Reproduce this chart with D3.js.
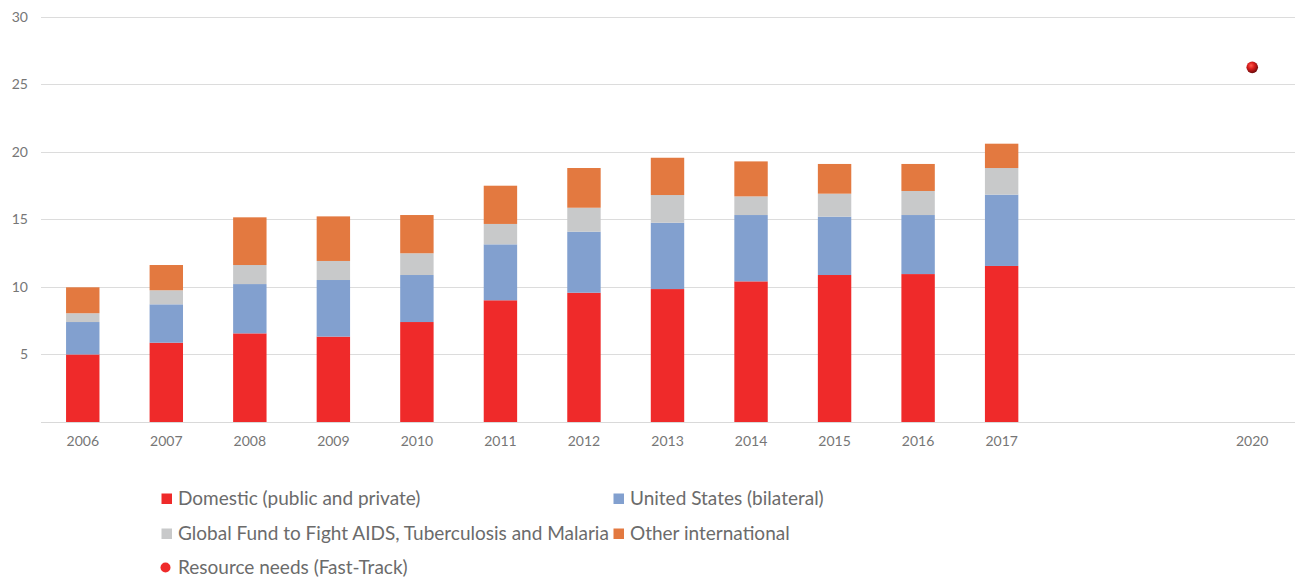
<!DOCTYPE html>
<html>
<head>
<meta charset="utf-8">
<script src="https://cdn.jsdelivr.net/npm/d3@7"></script>
<style>
  html, body { margin: 0; padding: 0; background: #ffffff; }
  svg { display: block; font-family: Lato, "Open Sans", sans-serif; }
</style>
</head>
<body>
<svg id="chart" width="1296" height="577"></svg>
<script>
// HIV resource availability by source (US$ billions)
const years = ["2006","2007","2008","2009","2010","2011","2012","2013","2014","2015","2016","2017","2018","2019","2020"];
const yearLabels = ["2006","2007","2008","2009","2010","2011","2012","2013","2014","2015","2016","2017","","","2020"];
const barYears = ["2006","2007","2008","2009","2010","2011","2012","2013","2014","2015","2016","2017"];

const domestic      = [5.00, 5.87, 6.56, 6.32, 7.40, 9.01, 9.57, 9.84, 10.41, 10.88, 10.95, 11.55];
const unitedStates  = [2.40, 2.84, 3.65, 4.19, 3.48, 4.14, 4.52, 4.91, 4.91, 4.32, 4.37, 5.28];
const globalFund    = [0.65, 1.04, 1.41, 1.41, 1.61, 1.51, 1.77, 2.05, 1.38, 1.70, 1.78, 1.97];
const otherIntl     = [1.92, 1.87, 3.53, 3.30, 2.83, 2.83, 2.94, 2.76, 2.59, 2.20, 2.00, 1.80];

const needsYear  = ["2020"];
const needsValue = [26.25];

const yTicks = [5, 10, 15, 20, 25, 30];

const seriesKeys   = ["domestic", "unitedStates", "globalFund", "otherIntl"];
const seriesNames  = ["Domestic (public and private)", "United States (bilateral)",
                      "Global Fund to Fight AIDS, Tuberculosis and Malaria", "Other international"];
const seriesColors = ["#ef2a2a", "#82a0cf", "#c8c9ca", "#e37940"];
const needsName = "Resource needs (Fast-Track)";

const table = barYears.map((yr, i) => ({
  year: yr,
  domestic: domestic[i],
  unitedStates: unitedStates[i],
  globalFund: globalFund[i],
  otherIntl: otherIntl[i]
}));

const svg = d3.select("#chart");
const plotLeft = 41, plotRight = 1294, plotTop = 16.7, plotBottom = 422;

const x = d3.scaleBand().domain(years).range([plotLeft, plotRight]).paddingInner(0.6).paddingOuter(0.3);
const y = d3.scaleLinear().domain([0, 30]).range([plotBottom, plotTop]);

// gridlines
svg.append("g")
  .selectAll("line")
  .data(yTicks)
  .join("line")
  .attr("x1", plotLeft).attr("x2", plotRight + 1)
  .attr("y1", d => Math.round(y(d)) + 0.5).attr("y2", d => Math.round(y(d)) + 0.5)
  .attr("stroke", "#dcdcdc").attr("stroke-width", 1.2);

// y axis labels
const yAxis = d3.axisLeft(y).tickValues(yTicks).tickSize(0).tickPadding(0);
svg.append("g")
  .attr("transform", `translate(28,0)`)
  .call(yAxis)
  .call(g => g.select(".domain").remove())
  .call(g => g.selectAll("text")
    .attr("fill", "#767676").attr("font-size", "14px").attr("font-family", "Lato, sans-serif"));

// stacked bars
const stack = d3.stack().keys(seriesKeys);
const layers = stack(table);
const color = d3.scaleOrdinal().domain(seriesKeys).range(seriesColors);

svg.append("g")
  .selectAll("g")
  .data(layers)
  .join("g")
  .attr("fill", d => color(d.key))
  .selectAll("rect")
  .data(d => d)
  .join("rect")
  .attr("x", d => x(d.data.year))
  .attr("width", x.bandwidth())
  .attr("y", d => y(d[1]))
  .attr("height", d => y(d[0]) - y(d[1]));

// x axis baseline
svg.append("line")
  .attr("x1", plotLeft).attr("x2", plotRight + 1)
  .attr("y1", plotBottom + 0.5).attr("y2", plotBottom + 0.5)
  .attr("stroke", "#d9d9d9").attr("stroke-width", 1.2);

// x axis labels
const xAxis = d3.axisBottom(x).tickSize(0).tickPadding(0).tickFormat((d, i) => yearLabels[i]);
svg.append("g")
  .attr("transform", `translate(0,${plotBottom + 14})`)
  .call(xAxis)
  .call(g => g.select(".domain").remove())
  .call(g => g.selectAll("text")
    .attr("fill", "#767676").attr("font-size", "14px").attr("font-family", "Lato, sans-serif"));

// resource needs marker (shaded sphere)
const defs = svg.append("defs");
const grad = defs.append("radialGradient")
  .attr("id", "sphere").attr("cx", "40%").attr("cy", "35%").attr("r", "65%");
grad.append("stop").attr("offset", "0%").attr("stop-color", "#ff5a4a");
grad.append("stop").attr("offset", "45%").attr("stop-color", "#d81c1c");
grad.append("stop").attr("offset", "100%").attr("stop-color", "#6e0d0d");

svg.append("g")
  .selectAll("circle")
  .data(needsYear.map((yr, i) => ({ year: yr, value: needsValue[i] })))
  .join("circle")
  .attr("cx", d => x(d.year) + x.bandwidth() / 2)
  .attr("cy", d => y(d.value))
  .attr("r", 5.8)
  .attr("fill", "url(#sphere)");

// legend
const legendItems = [
  { name: seriesNames[0], color: seriesColors[0], shape: "square", x: 161.5, y: 504.5 },
  { name: seriesNames[1], color: seriesColors[1], shape: "square", x: 613.5, y: 504.5 },
  { name: seriesNames[2], color: seriesColors[2], shape: "square", x: 161.5, y: 539.5 },
  { name: seriesNames[3], color: seriesColors[3], shape: "square", x: 613.5, y: 539.5 },
  { name: needsName,      color: "#ef2a2a",       shape: "circle", x: 161.5, y: 573.5 }
];

const legend = svg.append("g");
legendItems.forEach(item => {
  const g = legend.append("g").attr("transform", `translate(${item.x},${item.y})`);
  if (item.shape === "square") {
    g.append("rect").attr("x", 0).attr("y", -11).attr("width", 10.5).attr("height", 10.5).attr("fill", item.color);
  } else {
    g.append("circle").attr("cx", 4).attr("cy", -6).attr("r", 5).attr("fill", item.color);
  }
  g.append("text")
    .attr("x", 16.5).attr("y", 0)
    .attr("fill", "#6b6b6b")
    .attr("font-size", "19px")
    .attr("font-family", "Lato, sans-serif")
    .text(item.name);
});
</script>
</body>
</html>
